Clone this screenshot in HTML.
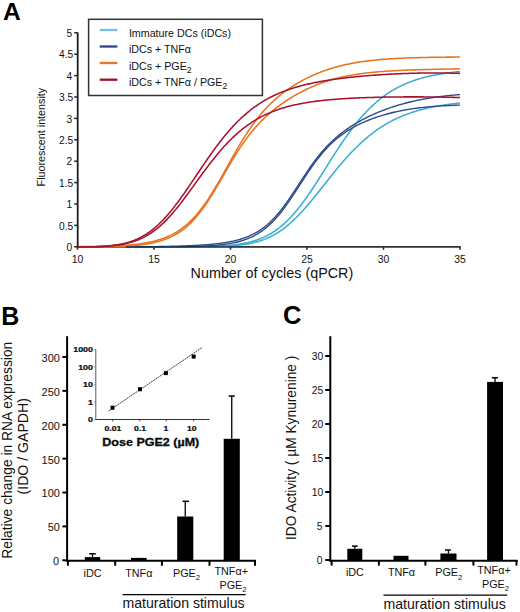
<!DOCTYPE html>
<html><head><meta charset="utf-8"><style>
html,body{margin:0;padding:0;background:#fff;}
svg{display:block;}
text{font-family:"Liberation Sans",sans-serif;fill:#111;}
.b{font-weight:bold;}
</style></head><body>
<svg width="520" height="612" viewBox="0 0 520 612">

<text x="3.0" y="20.2" class="b" font-size="24.6" style="fill:#000">A</text>
<g stroke="#262626" stroke-width="1.3" fill="none">
<line x1="77.7" y1="32.4" x2="77.7" y2="247.4" stroke-width="1.8" stroke="#1e1e1e"/>
<line x1="74.2" y1="246.80" x2="77.5" y2="246.80" stroke-width="1.5"/>
<line x1="74.2" y1="225.40" x2="77.5" y2="225.40" stroke-width="1.5"/>
<line x1="74.2" y1="204.00" x2="77.5" y2="204.00" stroke-width="1.5"/>
<line x1="74.2" y1="182.60" x2="77.5" y2="182.60" stroke-width="1.5"/>
<line x1="74.2" y1="161.20" x2="77.5" y2="161.20" stroke-width="1.5"/>
<line x1="74.2" y1="139.80" x2="77.5" y2="139.80" stroke-width="1.5"/>
<line x1="74.2" y1="118.40" x2="77.5" y2="118.40" stroke-width="1.5"/>
<line x1="74.2" y1="97.00" x2="77.5" y2="97.00" stroke-width="1.5"/>
<line x1="74.2" y1="75.60" x2="77.5" y2="75.60" stroke-width="1.5"/>
<line x1="74.2" y1="54.20" x2="77.5" y2="54.20" stroke-width="1.5"/>
<line x1="74.2" y1="32.80" x2="77.5" y2="32.80" stroke-width="1.5"/>
<line x1="76.9" y1="246.8" x2="460.5" y2="246.8"/>
<line x1="77.50" y1="246.8" x2="77.50" y2="249.8" stroke-width="1.5"/>
<line x1="154.00" y1="246.8" x2="154.00" y2="249.8" stroke-width="1.5"/>
<line x1="230.50" y1="246.8" x2="230.50" y2="249.8" stroke-width="1.5"/>
<line x1="307.00" y1="246.8" x2="307.00" y2="249.8" stroke-width="1.5"/>
<line x1="383.50" y1="246.8" x2="383.50" y2="249.8" stroke-width="1.5"/>
<line x1="460.00" y1="246.8" x2="460.00" y2="249.8" stroke-width="1.5"/>
</g>
<g font-size="10.2" text-anchor="end">
<text x="72.1" y="250.90">0</text>
<text x="73.2" y="229.50">0.5</text>
<text x="72.1" y="208.10">1</text>
<text x="73.2" y="186.70">1.5</text>
<text x="72.1" y="165.30">2</text>
<text x="73.2" y="143.90">2.5</text>
<text x="72.1" y="122.50">3</text>
<text x="73.2" y="101.10">3.5</text>
<text x="72.1" y="79.70">4</text>
<text x="73.2" y="58.30">4.5</text>
<text x="72.1" y="36.90">5</text>
</g>
<g font-size="10.4" text-anchor="middle">
<text x="77.50" y="262.7">10</text>
<text x="154.00" y="262.7">15</text>
<text x="230.50" y="262.7">20</text>
<text x="307.00" y="262.7">25</text>
<text x="383.50" y="262.7">30</text>
<text x="460.00" y="262.7">35</text>
</g>
<text x="190.6" y="277.9" font-size="14.35">Number of cycles (qPCR)</text>
<text transform="translate(44.8,137.1) rotate(-90)" font-size="10.75" text-anchor="middle">Fluorescent intensity</text>
<g fill="none" stroke-width="1.55" stroke-linejoin="round">
<path d="M78.0,246.80 L79.0,246.80 L80.0,246.80 L81.0,246.80 L82.0,246.80 L83.0,246.80 L84.0,246.80 L85.0,246.80 L86.0,246.80 L87.0,246.80 L88.0,246.80 L89.0,246.80 L90.0,246.80 L91.0,246.80 L92.0,246.80 L93.0,246.80 L94.0,246.80 L95.0,246.79 L96.0,246.79 L97.0,246.79 L98.0,246.78 L99.0,246.78 L100.0,246.77 L101.0,246.77 L102.0,246.77 L103.0,246.76 L104.0,246.76 L105.0,246.76 L106.0,246.75 L107.0,246.75 L108.0,246.75 L109.0,246.75 L110.0,246.74 L111.0,246.74 L112.0,246.74 L113.0,246.73 L114.0,246.73 L115.0,246.73 L116.0,246.73 L117.0,246.72 L118.0,246.72 L119.0,246.72 L120.0,246.72 L121.0,246.72 L122.0,246.71 L123.0,246.71 L124.0,246.71 L125.0,246.71 L126.0,246.71 L127.0,246.70 L128.0,246.70 L129.0,246.70 L130.0,246.70 L131.0,246.70 L132.0,246.69 L133.0,246.69 L134.0,246.69 L135.0,246.69 L136.0,246.69 L137.0,246.69 L138.0,246.69 L139.0,246.69 L140.0,246.68 L141.0,246.68 L142.0,246.68 L143.0,246.68 L144.0,246.68 L145.0,246.68 L146.0,246.68 L147.0,246.68 L148.0,246.68 L149.0,246.67 L150.0,246.67 L151.0,246.67 L152.0,246.67 L153.0,246.67 L154.0,246.67 L155.0,246.67 L156.0,246.67 L157.0,246.67 L158.0,246.67 L159.0,246.67 L160.0,246.67 L161.0,246.67 L162.0,246.67 L163.0,246.67 L164.0,246.66 L165.0,246.66 L166.0,246.66 L167.0,246.66 L168.0,246.66 L169.0,246.66 L170.0,246.66 L171.0,246.66 L172.0,246.66 L173.0,246.66 L174.0,246.66 L175.0,246.66 L176.0,246.66 L177.0,246.66 L178.0,246.66 L179.0,246.65 L180.0,246.65 L181.0,246.65 L182.0,246.65 L183.0,246.65 L184.0,246.65 L185.0,246.65 L186.0,246.64 L187.0,246.64 L188.0,246.64 L189.0,246.64 L190.0,246.63 L191.0,246.63 L192.0,246.63 L193.0,246.62 L194.0,246.62 L195.0,246.61 L196.0,246.61 L197.0,246.60 L198.0,246.60 L199.0,246.59 L200.0,246.59 L201.0,246.58 L202.0,246.57 L203.0,246.56 L204.0,246.55 L205.0,246.54 L206.0,246.53 L207.0,246.52 L208.0,246.51 L209.0,246.49 L210.0,246.48 L211.0,246.46 L212.0,246.45 L213.0,246.43 L214.0,246.41 L215.0,246.39 L216.0,246.36 L217.0,246.34 L218.0,246.31 L219.0,246.29 L220.0,246.25 L221.0,246.22 L222.0,246.19 L223.0,246.15 L224.0,246.11 L225.0,246.07 L226.0,246.02 L227.0,245.97 L228.0,245.92 L229.0,245.86 L230.0,245.80 L231.0,245.74 L232.0,245.67 L233.0,245.60 L234.0,245.52 L235.0,245.44 L236.0,245.36 L237.0,245.26 L238.0,245.17 L239.0,245.06 L240.0,244.95 L241.0,244.84 L242.0,244.71 L243.0,244.58 L244.0,244.44 L245.0,244.30 L246.0,244.14 L247.0,243.98 L248.0,243.81 L249.0,243.63 L250.0,243.43 L251.0,243.23 L252.0,243.02 L253.0,242.80 L254.0,242.56 L255.0,242.32 L256.0,242.06 L257.0,241.79 L258.0,241.50 L259.0,241.21 L260.0,240.89 L261.0,240.57 L262.0,240.23 L263.0,239.87 L264.0,239.50 L265.0,239.12 L266.0,238.71 L267.0,238.29 L268.0,237.85 L269.0,237.40 L270.0,236.93 L271.0,236.44 L272.0,235.93 L273.0,235.40 L274.0,234.85 L275.0,234.29 L276.0,233.70 L277.0,233.10 L278.0,232.47 L279.0,231.83 L280.0,231.16 L281.0,230.48 L282.0,229.77 L283.0,229.05 L284.0,228.30 L285.0,227.53 L286.0,226.74 L287.0,225.93 L288.0,225.11 L289.0,224.26 L290.0,223.39 L291.0,222.50 L292.0,221.59 L293.0,220.66 L294.0,219.72 L295.0,218.75 L296.0,217.77 L297.0,216.77 L298.0,215.75 L299.0,214.71 L300.0,213.66 L301.0,212.59 L302.0,211.51 L303.0,210.41 L304.0,209.29 L305.0,208.16 L306.0,207.02 L307.0,205.87 L308.0,204.70 L309.0,203.52 L310.0,202.33 L311.0,201.13 L312.0,199.93 L313.0,198.71 L314.0,197.49 L315.0,196.25 L316.0,195.01 L317.0,193.77 L318.0,192.52 L319.0,191.27 L320.0,190.01 L321.0,188.75 L322.0,187.49 L323.0,186.23 L324.0,184.96 L325.0,183.70 L326.0,182.44 L327.0,181.17 L328.0,179.92 L329.0,178.66 L330.0,177.40 L331.0,176.16 L332.0,174.91 L333.0,173.67 L334.0,172.44 L335.0,171.21 L336.0,169.99 L337.0,168.78 L338.0,167.57 L339.0,166.37 L340.0,165.19 L341.0,164.01 L342.0,162.84 L343.0,161.68 L344.0,160.53 L345.0,159.39 L346.0,158.27 L347.0,157.15 L348.0,156.05 L349.0,154.96 L350.0,153.88 L351.0,152.81 L352.0,151.76 L353.0,150.72 L354.0,149.69 L355.0,148.68 L356.0,147.68 L357.0,146.69 L358.0,145.72 L359.0,144.76 L360.0,143.82 L361.0,142.89 L362.0,141.97 L363.0,141.07 L364.0,140.18 L365.0,139.30 L366.0,138.44 L367.0,137.60 L368.0,136.76 L369.0,135.95 L370.0,135.14 L371.0,134.35 L372.0,133.57 L373.0,132.81 L374.0,132.06 L375.0,131.33 L376.0,130.61 L377.0,129.90 L378.0,129.20 L379.0,128.52 L380.0,127.85 L381.0,127.20 L382.0,126.56 L383.0,125.93 L384.0,125.31 L385.0,124.70 L386.0,124.11 L387.0,123.53 L388.0,122.96 L389.0,122.40 L390.0,121.86 L391.0,121.32 L392.0,120.80 L393.0,120.29 L394.0,119.78 L395.0,119.29 L396.0,118.81 L397.0,118.34 L398.0,117.89 L399.0,117.44 L400.0,117.00 L401.0,116.57 L402.0,116.15 L403.0,115.74 L404.0,115.33 L405.0,114.94 L406.0,114.56 L407.0,114.18 L408.0,113.82 L409.0,113.46 L410.0,113.11 L411.0,112.77 L412.0,112.43 L413.0,112.10 L414.0,111.79 L415.0,111.47 L416.0,111.17 L417.0,110.87 L418.0,110.58 L419.0,110.30 L420.0,110.02 L421.0,109.75 L422.0,109.49 L423.0,109.23 L424.0,108.98 L425.0,108.73 L426.0,108.49 L427.0,108.26 L428.0,108.03 L429.0,107.81 L430.0,107.59 L431.0,107.38 L432.0,107.17 L433.0,106.97 L434.0,106.77 L435.0,106.57 L436.0,106.39 L437.0,106.20 L438.0,106.02 L439.0,105.85 L440.0,105.68 L441.0,105.51 L442.0,105.35 L443.0,105.19 L444.0,105.03 L445.0,104.88 L446.0,104.73 L447.0,104.59 L448.0,104.45 L449.0,104.31 L450.0,104.17 L451.0,104.04 L452.0,103.91 L453.0,103.79 L454.0,103.67 L455.0,103.55 L456.0,103.43 L457.0,103.32 L458.0,103.20 L459.0,103.10 L460.0,102.99" stroke="#3aaed2"/>
<path d="M78.0,246.80 L79.0,246.80 L80.0,246.80 L81.0,246.80 L82.0,246.80 L83.0,246.80 L84.0,246.80 L85.0,246.80 L86.0,246.80 L87.0,246.80 L88.0,246.80 L89.0,246.80 L90.0,246.80 L91.0,246.80 L92.0,246.80 L93.0,246.80 L94.0,246.80 L95.0,246.80 L96.0,246.80 L97.0,246.80 L98.0,246.80 L99.0,246.80 L100.0,246.80 L101.0,246.80 L102.0,246.80 L103.0,246.80 L104.0,246.80 L105.0,246.80 L106.0,246.80 L107.0,246.80 L108.0,246.80 L109.0,246.80 L110.0,246.80 L111.0,246.80 L112.0,246.80 L113.0,246.80 L114.0,246.80 L115.0,246.80 L116.0,246.80 L117.0,246.80 L118.0,246.80 L119.0,246.80 L120.0,246.80 L121.0,246.80 L122.0,246.80 L123.0,246.80 L124.0,246.80 L125.0,246.80 L126.0,246.80 L127.0,246.80 L128.0,246.80 L129.0,246.80 L130.0,246.80 L131.0,246.80 L132.0,246.80 L133.0,246.80 L134.0,246.80 L135.0,246.80 L136.0,246.80 L137.0,246.80 L138.0,246.80 L139.0,246.80 L140.0,246.80 L141.0,246.80 L142.0,246.80 L143.0,246.80 L144.0,246.80 L145.0,246.80 L146.0,246.80 L147.0,246.80 L148.0,246.80 L149.0,246.80 L150.0,246.80 L151.0,246.80 L152.0,246.80 L153.0,246.80 L154.0,246.80 L155.0,246.80 L156.0,246.80 L157.0,246.80 L158.0,246.80 L159.0,246.80 L160.0,246.80 L161.0,246.80 L162.0,246.80 L163.0,246.80 L164.0,246.80 L165.0,246.80 L166.0,246.80 L167.0,246.80 L168.0,246.80 L169.0,246.80 L170.0,246.80 L171.0,246.80 L172.0,246.80 L173.0,246.80 L174.0,246.80 L175.0,246.80 L176.0,246.80 L177.0,246.80 L178.0,246.80 L179.0,246.80 L180.0,246.80 L181.0,246.80 L182.0,246.80 L183.0,246.80 L184.0,246.80 L185.0,246.80 L186.0,246.80 L187.0,246.80 L188.0,246.80 L189.0,246.80 L190.0,246.80 L191.0,246.80 L192.0,246.78 L193.0,246.77 L194.0,246.76 L195.0,246.75 L196.0,246.73 L197.0,246.72 L198.0,246.70 L199.0,246.68 L200.0,246.67 L201.0,246.65 L202.0,246.63 L203.0,246.61 L204.0,246.58 L205.0,246.56 L206.0,246.54 L207.0,246.51 L208.0,246.48 L209.0,246.45 L210.0,246.42 L211.0,246.39 L212.0,246.35 L213.0,246.31 L214.0,246.28 L215.0,246.23 L216.0,246.19 L217.0,246.14 L218.0,246.10 L219.0,246.04 L220.0,245.99 L221.0,245.93 L222.0,245.87 L223.0,245.81 L224.0,245.74 L225.0,245.67 L226.0,245.60 L227.0,245.52 L228.0,245.43 L229.0,245.35 L230.0,245.25 L231.0,245.16 L232.0,245.05 L233.0,244.95 L234.0,244.83 L235.0,244.71 L236.0,244.59 L237.0,244.46 L238.0,244.32 L239.0,244.17 L240.0,244.02 L241.0,243.86 L242.0,243.69 L243.0,243.51 L244.0,243.33 L245.0,243.13 L246.0,242.93 L247.0,242.71 L248.0,242.49 L249.0,242.25 L250.0,242.00 L251.0,241.75 L252.0,241.48 L253.0,241.19 L254.0,240.90 L255.0,240.59 L256.0,240.27 L257.0,239.93 L258.0,239.58 L259.0,239.21 L260.0,238.83 L261.0,238.43 L262.0,238.02 L263.0,237.59 L264.0,237.14 L265.0,236.67 L266.0,236.19 L267.0,235.68 L268.0,235.16 L269.0,234.62 L270.0,234.05 L271.0,233.47 L272.0,232.86 L273.0,232.24 L274.0,231.59 L275.0,230.92 L276.0,230.22 L277.0,229.50 L278.0,228.76 L279.0,228.00 L280.0,227.21 L281.0,226.40 L282.0,225.56 L283.0,224.70 L284.0,223.82 L285.0,222.91 L286.0,221.97 L287.0,221.01 L288.0,220.02 L289.0,219.01 L290.0,217.98 L291.0,216.92 L292.0,215.83 L293.0,214.72 L294.0,213.59 L295.0,212.43 L296.0,211.25 L297.0,210.04 L298.0,208.81 L299.0,207.56 L300.0,206.29 L301.0,204.99 L302.0,203.67 L303.0,202.33 L304.0,200.98 L305.0,199.60 L306.0,198.20 L307.0,196.79 L308.0,195.36 L309.0,193.91 L310.0,192.45 L311.0,190.97 L312.0,189.47 L313.0,187.97 L314.0,186.45 L315.0,184.92 L316.0,183.38 L317.0,181.83 L318.0,180.27 L319.0,178.71 L320.0,177.14 L321.0,175.56 L322.0,173.98 L323.0,172.39 L324.0,170.80 L325.0,169.21 L326.0,167.62 L327.0,166.03 L328.0,164.44 L329.0,162.85 L330.0,161.27 L331.0,159.69 L332.0,158.11 L333.0,156.54 L334.0,154.98 L335.0,153.42 L336.0,151.87 L337.0,150.33 L338.0,148.80 L339.0,147.28 L340.0,145.78 L341.0,144.28 L342.0,142.80 L343.0,141.33 L344.0,139.87 L345.0,138.43 L346.0,137.00 L347.0,135.59 L348.0,134.19 L349.0,132.81 L350.0,131.45 L351.0,130.10 L352.0,128.77 L353.0,127.46 L354.0,126.16 L355.0,124.89 L356.0,123.63 L357.0,122.39 L358.0,121.17 L359.0,119.96 L360.0,118.78 L361.0,117.62 L362.0,116.47 L363.0,115.35 L364.0,114.24 L365.0,113.16 L366.0,112.09 L367.0,111.04 L368.0,110.01 L369.0,109.00 L370.0,108.01 L371.0,107.04 L372.0,106.09 L373.0,105.15 L374.0,104.24 L375.0,103.34 L376.0,102.46 L377.0,101.60 L378.0,100.76 L379.0,99.94 L380.0,99.13 L381.0,98.34 L382.0,97.57 L383.0,96.82 L384.0,96.08 L385.0,95.36 L386.0,94.65 L387.0,93.96 L388.0,93.29 L389.0,92.63 L390.0,91.99 L391.0,91.36 L392.0,90.75 L393.0,90.15 L394.0,89.57 L395.0,89.00 L396.0,88.45 L397.0,87.90 L398.0,87.37 L399.0,86.86 L400.0,86.36 L401.0,85.87 L402.0,85.39 L403.0,84.92 L404.0,84.47 L405.0,84.03 L406.0,83.60 L407.0,83.18 L408.0,82.77 L409.0,82.37 L410.0,81.98 L411.0,81.60 L412.0,81.23 L413.0,80.88 L414.0,80.53 L415.0,80.19 L416.0,79.86 L417.0,79.53 L418.0,79.22 L419.0,78.92 L420.0,78.62 L421.0,78.33 L422.0,78.05 L423.0,77.78 L424.0,77.51 L425.0,77.25 L426.0,77.00 L427.0,76.76 L428.0,76.52 L429.0,76.29 L430.0,76.06 L431.0,75.84 L432.0,75.63 L433.0,75.42 L434.0,75.22 L435.0,75.03 L436.0,74.84 L437.0,74.65 L438.0,74.47 L439.0,74.30 L440.0,74.13 L441.0,73.97 L442.0,73.81 L443.0,73.65 L444.0,73.50 L445.0,73.35 L446.0,73.21 L447.0,73.07 L448.0,72.94 L449.0,72.81 L450.0,72.68 L451.0,72.55 L452.0,72.43 L453.0,72.32 L454.0,72.21 L455.0,72.10 L456.0,71.99 L457.0,71.89 L458.0,71.78 L459.0,71.69 L460.0,71.59" stroke="#3aaed2"/>
<path d="M78.0,246.80 L79.0,246.80 L80.0,246.80 L81.0,246.80 L82.0,246.80 L83.0,246.80 L84.0,246.80 L85.0,246.80 L86.0,246.80 L87.0,246.80 L88.0,246.80 L89.0,246.80 L90.0,246.80 L91.0,246.80 L92.0,246.80 L93.0,246.80 L94.0,246.80 L95.0,246.80 L96.0,246.80 L97.0,246.80 L98.0,246.80 L99.0,246.80 L100.0,246.80 L101.0,246.80 L102.0,246.80 L103.0,246.80 L104.0,246.80 L105.0,246.80 L106.0,246.80 L107.0,246.80 L108.0,246.80 L109.0,246.80 L110.0,246.80 L111.0,246.80 L112.0,246.80 L113.0,246.80 L114.0,246.80 L115.0,246.80 L116.0,246.80 L117.0,246.80 L118.0,246.80 L119.0,246.80 L120.0,246.80 L121.0,246.80 L122.0,246.80 L123.0,246.80 L124.0,246.80 L125.0,246.80 L126.0,246.80 L127.0,246.80 L128.0,246.80 L129.0,246.80 L130.0,246.80 L131.0,246.80 L132.0,246.80 L133.0,246.80 L134.0,246.80 L135.0,246.80 L136.0,246.80 L137.0,246.80 L138.0,246.80 L139.0,246.80 L140.0,246.80 L141.0,246.80 L142.0,246.80 L143.0,246.80 L144.0,246.80 L145.0,246.80 L146.0,246.80 L147.0,246.80 L148.0,246.80 L149.0,246.80 L150.0,246.80 L151.0,246.80 L152.0,246.80 L153.0,246.80 L154.0,246.80 L155.0,246.80 L156.0,246.80 L157.0,246.80 L158.0,246.80 L159.0,246.80 L160.0,246.80 L161.0,246.80 L162.0,246.80 L163.0,246.80 L164.0,246.80 L165.0,246.80 L166.0,246.80 L167.0,246.80 L168.0,246.80 L169.0,246.80 L170.0,246.80 L171.0,246.80 L172.0,246.80 L173.0,246.80 L174.0,246.80 L175.0,246.80 L176.0,246.80 L177.0,246.80 L178.0,246.80 L179.0,246.80 L180.0,246.80 L181.0,246.80 L182.0,246.80 L183.0,246.80 L184.0,246.78 L185.0,246.76 L186.0,246.74 L187.0,246.72 L188.0,246.70 L189.0,246.67 L190.0,246.65 L191.0,246.62 L192.0,246.59 L193.0,246.56 L194.0,246.53 L195.0,246.50 L196.0,246.46 L197.0,246.43 L198.0,246.39 L199.0,246.35 L200.0,246.31 L201.0,246.27 L202.0,246.22 L203.0,246.17 L204.0,246.12 L205.0,246.07 L206.0,246.01 L207.0,245.96 L208.0,245.90 L209.0,245.83 L210.0,245.77 L211.0,245.70 L212.0,245.62 L213.0,245.55 L214.0,245.46 L215.0,245.38 L216.0,245.29 L217.0,245.20 L218.0,245.10 L219.0,245.00 L220.0,244.89 L221.0,244.78 L222.0,244.66 L223.0,244.54 L224.0,244.41 L225.0,244.27 L226.0,244.13 L227.0,243.98 L228.0,243.82 L229.0,243.65 L230.0,243.48 L231.0,243.30 L232.0,243.11 L233.0,242.91 L234.0,242.70 L235.0,242.49 L236.0,242.26 L237.0,242.02 L238.0,241.77 L239.0,241.51 L240.0,241.23 L241.0,240.94 L242.0,240.64 L243.0,240.33 L244.0,240.00 L245.0,239.66 L246.0,239.30 L247.0,238.92 L248.0,238.53 L249.0,238.12 L250.0,237.69 L251.0,237.25 L252.0,236.78 L253.0,236.30 L254.0,235.79 L255.0,235.26 L256.0,234.71 L257.0,234.14 L258.0,233.54 L259.0,232.93 L260.0,232.28 L261.0,231.61 L262.0,230.92 L263.0,230.19 L264.0,229.45 L265.0,228.67 L266.0,227.87 L267.0,227.03 L268.0,226.17 L269.0,225.28 L270.0,224.36 L271.0,223.41 L272.0,222.43 L273.0,221.42 L274.0,220.38 L275.0,219.31 L276.0,218.21 L277.0,217.07 L278.0,215.91 L279.0,214.72 L280.0,213.51 L281.0,212.26 L282.0,210.99 L283.0,209.69 L284.0,208.36 L285.0,207.01 L286.0,205.63 L287.0,204.23 L288.0,202.82 L289.0,201.38 L290.0,199.92 L291.0,198.44 L292.0,196.95 L293.0,195.45 L294.0,193.93 L295.0,192.41 L296.0,190.87 L297.0,189.33 L298.0,187.78 L299.0,186.23 L300.0,184.68 L301.0,183.13 L302.0,181.59 L303.0,180.04 L304.0,178.51 L305.0,176.98 L306.0,175.46 L307.0,173.95 L308.0,172.46 L309.0,170.98 L310.0,169.51 L311.0,168.07 L312.0,166.64 L313.0,165.23 L314.0,163.84 L315.0,162.47 L316.0,161.12 L317.0,159.80 L318.0,158.50 L319.0,157.23 L320.0,155.97 L321.0,154.75 L322.0,153.55 L323.0,152.37 L324.0,151.22 L325.0,150.10 L326.0,149.00 L327.0,147.92 L328.0,146.87 L329.0,145.85 L330.0,144.85 L331.0,143.87 L332.0,142.92 L333.0,141.99 L334.0,141.09 L335.0,140.21 L336.0,139.34 L337.0,138.50 L338.0,137.69 L339.0,136.89 L340.0,136.11 L341.0,135.35 L342.0,134.61 L343.0,133.89 L344.0,133.19 L345.0,132.50 L346.0,131.83 L347.0,131.18 L348.0,130.54 L349.0,129.92 L350.0,129.31 L351.0,128.71 L352.0,128.13 L353.0,127.57 L354.0,127.01 L355.0,126.47 L356.0,125.94 L357.0,125.42 L358.0,124.92 L359.0,124.42 L360.0,123.94 L361.0,123.46 L362.0,123.00 L363.0,122.54 L364.0,122.10 L365.0,121.66 L366.0,121.23 L367.0,120.81 L368.0,120.40 L369.0,120.00 L370.0,119.61 L371.0,119.22 L372.0,118.85 L373.0,118.48 L374.0,118.11 L375.0,117.76 L376.0,117.41 L377.0,117.07 L378.0,116.73 L379.0,116.41 L380.0,116.09 L381.0,115.77 L382.0,115.47 L383.0,115.16 L384.0,114.87 L385.0,114.58 L386.0,114.30 L387.0,114.02 L388.0,113.75 L389.0,113.49 L390.0,113.23 L391.0,112.98 L392.0,112.73 L393.0,112.49 L394.0,112.25 L395.0,112.02 L396.0,111.80 L397.0,111.57 L398.0,111.36 L399.0,111.15 L400.0,110.94 L401.0,110.74 L402.0,110.55 L403.0,110.36 L404.0,110.17 L405.0,109.99 L406.0,109.82 L407.0,109.64 L408.0,109.48 L409.0,109.31 L410.0,109.16 L411.0,109.00 L412.0,108.85 L413.0,108.70 L414.0,108.56 L415.0,108.42 L416.0,108.29 L417.0,108.16 L418.0,108.03 L419.0,107.90 L420.0,107.78 L421.0,107.67 L422.0,107.55 L423.0,107.44 L424.0,107.34 L425.0,107.23 L426.0,107.13 L427.0,107.03 L428.0,106.94 L429.0,106.85 L430.0,106.76 L431.0,106.67 L432.0,106.59 L433.0,106.51 L434.0,106.43 L435.0,106.35 L436.0,106.28 L437.0,106.20 L438.0,106.14 L439.0,106.07 L440.0,106.00 L441.0,105.94 L442.0,105.88 L443.0,105.82 L444.0,105.77 L445.0,105.71 L446.0,105.66 L447.0,105.61 L448.0,105.56 L449.0,105.51 L450.0,105.46 L451.0,105.42 L452.0,105.38 L453.0,105.34 L454.0,105.30 L455.0,105.26 L456.0,105.22 L457.0,105.19 L458.0,105.15 L459.0,105.12 L460.0,105.09" stroke="#2a4888" stroke-width="1.35"/>
<path d="M78.0,246.80 L79.0,246.80 L80.0,246.80 L81.0,246.80 L82.0,246.80 L83.0,246.80 L84.0,246.80 L85.0,246.80 L86.0,246.80 L87.0,246.80 L88.0,246.80 L89.0,246.80 L90.0,246.80 L91.0,246.80 L92.0,246.80 L93.0,246.80 L94.0,246.80 L95.0,246.80 L96.0,246.80 L97.0,246.80 L98.0,246.80 L99.0,246.80 L100.0,246.80 L101.0,246.80 L102.0,246.80 L103.0,246.80 L104.0,246.80 L105.0,246.80 L106.0,246.80 L107.0,246.80 L108.0,246.80 L109.0,246.80 L110.0,246.80 L111.0,246.80 L112.0,246.80 L113.0,246.80 L114.0,246.80 L115.0,246.80 L116.0,246.80 L117.0,246.80 L118.0,246.80 L119.0,246.80 L120.0,246.80 L121.0,246.80 L122.0,246.80 L123.0,246.80 L124.0,246.80 L125.0,246.80 L126.0,246.80 L127.0,246.80 L128.0,246.80 L129.0,246.80 L130.0,246.80 L131.0,246.80 L132.0,246.80 L133.0,246.80 L134.0,246.80 L135.0,246.80 L136.0,246.80 L137.0,246.79 L138.0,246.79 L139.0,246.78 L140.0,246.77 L141.0,246.76 L142.0,246.75 L143.0,246.74 L144.0,246.73 L145.0,246.72 L146.0,246.71 L147.0,246.70 L148.0,246.68 L149.0,246.67 L150.0,246.66 L151.0,246.65 L152.0,246.63 L153.0,246.62 L154.0,246.61 L155.0,246.59 L156.0,246.58 L157.0,246.56 L158.0,246.55 L159.0,246.53 L160.0,246.51 L161.0,246.50 L162.0,246.48 L163.0,246.46 L164.0,246.44 L165.0,246.42 L166.0,246.40 L167.0,246.38 L168.0,246.36 L169.0,246.34 L170.0,246.31 L171.0,246.29 L172.0,246.26 L173.0,246.24 L174.0,246.21 L175.0,246.19 L176.0,246.16 L177.0,246.13 L178.0,246.10 L179.0,246.07 L180.0,246.04 L181.0,246.01 L182.0,245.97 L183.0,245.94 L184.0,245.90 L185.0,245.87 L186.0,245.83 L187.0,245.79 L188.0,245.75 L189.0,245.71 L190.0,245.67 L191.0,245.62 L192.0,245.57 L193.0,245.53 L194.0,245.48 L195.0,245.43 L196.0,245.37 L197.0,245.32 L198.0,245.26 L199.0,245.20 L200.0,245.14 L201.0,245.08 L202.0,245.01 L203.0,244.95 L204.0,244.88 L205.0,244.80 L206.0,244.73 L207.0,244.65 L208.0,244.57 L209.0,244.48 L210.0,244.40 L211.0,244.31 L212.0,244.21 L213.0,244.11 L214.0,244.01 L215.0,243.91 L216.0,243.80 L217.0,243.68 L218.0,243.57 L219.0,243.44 L220.0,243.32 L221.0,243.18 L222.0,243.04 L223.0,242.90 L224.0,242.75 L225.0,242.59 L226.0,242.43 L227.0,242.26 L228.0,242.09 L229.0,241.90 L230.0,241.71 L231.0,241.51 L232.0,241.31 L233.0,241.09 L234.0,240.87 L235.0,240.63 L236.0,240.39 L237.0,240.13 L238.0,239.87 L239.0,239.59 L240.0,239.30 L241.0,239.00 L242.0,238.69 L243.0,238.36 L244.0,238.02 L245.0,237.67 L246.0,237.30 L247.0,236.91 L248.0,236.51 L249.0,236.09 L250.0,235.66 L251.0,235.20 L252.0,234.73 L253.0,234.24 L254.0,233.72 L255.0,233.19 L256.0,232.64 L257.0,232.06 L258.0,231.46 L259.0,230.83 L260.0,230.19 L261.0,229.51 L262.0,228.81 L263.0,228.09 L264.0,227.34 L265.0,226.56 L266.0,225.75 L267.0,224.91 L268.0,224.05 L269.0,223.15 L270.0,222.23 L271.0,221.27 L272.0,220.29 L273.0,219.27 L274.0,218.23 L275.0,217.15 L276.0,216.04 L277.0,214.90 L278.0,213.74 L279.0,212.54 L280.0,211.31 L281.0,210.06 L282.0,208.78 L283.0,207.47 L284.0,206.13 L285.0,204.77 L286.0,203.39 L287.0,201.98 L288.0,200.55 L289.0,199.11 L290.0,197.64 L291.0,196.16 L292.0,194.67 L293.0,193.16 L294.0,191.64 L295.0,190.11 L296.0,188.58 L297.0,187.04 L298.0,185.50 L299.0,183.95 L300.0,182.41 L301.0,180.87 L302.0,179.33 L303.0,177.81 L304.0,176.28 L305.0,174.77 L306.0,173.27 L307.0,171.79 L308.0,170.31 L309.0,168.86 L310.0,167.42 L311.0,166.00 L312.0,164.59 L313.0,163.21 L314.0,161.85 L315.0,160.51 L316.0,159.19 L317.0,157.89 L318.0,156.62 L319.0,155.37 L320.0,154.15 L321.0,152.94 L322.0,151.77 L323.0,150.61 L324.0,149.48 L325.0,148.37 L326.0,147.29 L327.0,146.22 L328.0,145.19 L329.0,144.17 L330.0,143.17 L331.0,142.20 L332.0,141.24 L333.0,140.31 L334.0,139.40 L335.0,138.50 L336.0,137.63 L337.0,136.77 L338.0,135.93 L339.0,135.11 L340.0,134.31 L341.0,133.52 L342.0,132.75 L343.0,131.99 L344.0,131.25 L345.0,130.52 L346.0,129.81 L347.0,129.11 L348.0,128.42 L349.0,127.74 L350.0,127.08 L351.0,126.43 L352.0,125.79 L353.0,125.17 L354.0,124.55 L355.0,123.94 L356.0,123.35 L357.0,122.76 L358.0,122.18 L359.0,121.62 L360.0,121.06 L361.0,120.51 L362.0,119.97 L363.0,119.44 L364.0,118.92 L365.0,118.40 L366.0,117.90 L367.0,117.40 L368.0,116.91 L369.0,116.42 L370.0,115.95 L371.0,115.48 L372.0,115.02 L373.0,114.56 L374.0,114.11 L375.0,113.67 L376.0,113.24 L377.0,112.81 L378.0,112.39 L379.0,111.98 L380.0,111.57 L381.0,111.17 L382.0,110.77 L383.0,110.38 L384.0,110.00 L385.0,109.62 L386.0,109.25 L387.0,108.88 L388.0,108.52 L389.0,108.17 L390.0,107.82 L391.0,107.48 L392.0,107.14 L393.0,106.81 L394.0,106.49 L395.0,106.17 L396.0,105.85 L397.0,105.55 L398.0,105.24 L399.0,104.94 L400.0,104.65 L401.0,104.36 L402.0,104.08 L403.0,103.80 L404.0,103.53 L405.0,103.26 L406.0,103.00 L407.0,102.74 L408.0,102.49 L409.0,102.24 L410.0,102.00 L411.0,101.76 L412.0,101.52 L413.0,101.29 L414.0,101.07 L415.0,100.85 L416.0,100.63 L417.0,100.42 L418.0,100.21 L419.0,100.01 L420.0,99.81 L421.0,99.61 L422.0,99.42 L423.0,99.23 L424.0,99.05 L425.0,98.87 L426.0,98.69 L427.0,98.52 L428.0,98.35 L429.0,98.18 L430.0,98.02 L431.0,97.87 L432.0,97.71 L433.0,97.56 L434.0,97.41 L435.0,97.27 L436.0,97.13 L437.0,96.99 L438.0,96.85 L439.0,96.72 L440.0,96.59 L441.0,96.47 L442.0,96.34 L443.0,96.22 L444.0,96.11 L445.0,95.99 L446.0,95.88 L447.0,95.77 L448.0,95.67 L449.0,95.56 L450.0,95.46 L451.0,95.36 L452.0,95.27 L453.0,95.17 L454.0,95.08 L455.0,94.99 L456.0,94.90 L457.0,94.82 L458.0,94.74 L459.0,94.65 L460.0,94.58" stroke="#2a4888" stroke-width="1.35"/>
<path d="M78.0,246.80 L79.0,246.80 L80.0,246.80 L81.0,246.80 L82.0,246.80 L83.0,246.80 L84.0,246.80 L85.0,246.80 L86.0,246.80 L87.0,246.80 L88.0,246.80 L89.0,246.80 L90.0,246.80 L91.0,246.80 L92.0,246.80 L93.0,246.80 L94.0,246.80 L95.0,246.80 L96.0,246.80 L97.0,246.80 L98.0,246.80 L99.0,246.80 L100.0,246.80 L101.0,246.80 L102.0,246.80 L103.0,246.80 L104.0,246.80 L105.0,246.80 L106.0,246.80 L107.0,246.80 L108.0,246.80 L109.0,246.80 L110.0,246.80 L111.0,246.80 L112.0,246.80 L113.0,246.80 L114.0,246.80 L115.0,246.80 L116.0,246.80 L117.0,246.80 L118.0,246.80 L119.0,246.80 L120.0,246.80 L121.0,246.78 L122.0,246.72 L123.0,246.65 L124.0,246.58 L125.0,246.51 L126.0,246.43 L127.0,246.35 L128.0,246.27 L129.0,246.19 L130.0,246.10 L131.0,246.01 L132.0,245.92 L133.0,245.82 L134.0,245.72 L135.0,245.62 L136.0,245.51 L137.0,245.40 L138.0,245.29 L139.0,245.16 L140.0,245.04 L141.0,244.91 L142.0,244.77 L143.0,244.63 L144.0,244.48 L145.0,244.33 L146.0,244.17 L147.0,244.00 L148.0,243.82 L149.0,243.64 L150.0,243.45 L151.0,243.25 L152.0,243.05 L153.0,242.83 L154.0,242.60 L155.0,242.37 L156.0,242.12 L157.0,241.87 L158.0,241.60 L159.0,241.32 L160.0,241.03 L161.0,240.73 L162.0,240.41 L163.0,240.08 L164.0,239.73 L165.0,239.37 L166.0,239.00 L167.0,238.61 L168.0,238.20 L169.0,237.77 L170.0,237.33 L171.0,236.87 L172.0,236.38 L173.0,235.88 L174.0,235.36 L175.0,234.81 L176.0,234.25 L177.0,233.66 L178.0,233.04 L179.0,232.41 L180.0,231.74 L181.0,231.06 L182.0,230.34 L183.0,229.60 L184.0,228.83 L185.0,228.03 L186.0,227.20 L187.0,226.35 L188.0,225.46 L189.0,224.54 L190.0,223.59 L191.0,222.61 L192.0,221.60 L193.0,220.56 L194.0,219.48 L195.0,218.37 L196.0,217.23 L197.0,216.05 L198.0,214.85 L199.0,213.61 L200.0,212.33 L201.0,211.03 L202.0,209.69 L203.0,208.32 L204.0,206.93 L205.0,205.50 L206.0,204.04 L207.0,202.56 L208.0,201.04 L209.0,199.51 L210.0,197.94 L211.0,196.36 L212.0,194.75 L213.0,193.12 L214.0,191.48 L215.0,189.81 L216.0,188.13 L217.0,186.44 L218.0,184.73 L219.0,183.02 L220.0,181.29 L221.0,179.56 L222.0,177.83 L223.0,176.09 L224.0,174.35 L225.0,172.62 L226.0,170.89 L227.0,169.16 L228.0,167.44 L229.0,165.72 L230.0,164.02 L231.0,162.33 L232.0,160.66 L233.0,158.99 L234.0,157.35 L235.0,155.72 L236.0,154.11 L237.0,152.52 L238.0,150.95 L239.0,149.40 L240.0,147.88 L241.0,146.37 L242.0,144.89 L243.0,143.44 L244.0,142.01 L245.0,140.60 L246.0,139.22 L247.0,137.86 L248.0,136.53 L249.0,135.22 L250.0,133.94 L251.0,132.68 L252.0,131.44 L253.0,130.23 L254.0,129.05 L255.0,127.89 L256.0,126.75 L257.0,125.63 L258.0,124.53 L259.0,123.46 L260.0,122.41 L261.0,121.38 L262.0,120.37 L263.0,119.38 L264.0,118.40 L265.0,117.45 L266.0,116.52 L267.0,115.60 L268.0,114.70 L269.0,113.81 L270.0,112.94 L271.0,112.09 L272.0,111.25 L273.0,110.43 L274.0,109.62 L275.0,108.83 L276.0,108.05 L277.0,107.28 L278.0,106.52 L279.0,105.78 L280.0,105.05 L281.0,104.33 L282.0,103.62 L283.0,102.92 L284.0,102.24 L285.0,101.56 L286.0,100.90 L287.0,100.24 L288.0,99.60 L289.0,98.96 L290.0,98.33 L291.0,97.72 L292.0,97.11 L293.0,96.51 L294.0,95.92 L295.0,95.35 L296.0,94.77 L297.0,94.21 L298.0,93.66 L299.0,93.11 L300.0,92.58 L301.0,92.05 L302.0,91.53 L303.0,91.02 L304.0,90.52 L305.0,90.02 L306.0,89.54 L307.0,89.06 L308.0,88.59 L309.0,88.13 L310.0,87.67 L311.0,87.23 L312.0,86.79 L313.0,86.36 L314.0,85.94 L315.0,85.52 L316.0,85.12 L317.0,84.72 L318.0,84.33 L319.0,83.95 L320.0,83.57 L321.0,83.20 L322.0,82.84 L323.0,82.49 L324.0,82.14 L325.0,81.80 L326.0,81.47 L327.0,81.15 L328.0,80.83 L329.0,80.52 L330.0,80.21 L331.0,79.92 L332.0,79.63 L333.0,79.34 L334.0,79.07 L335.0,78.80 L336.0,78.53 L337.0,78.27 L338.0,78.02 L339.0,77.77 L340.0,77.53 L341.0,77.30 L342.0,77.07 L343.0,76.85 L344.0,76.63 L345.0,76.42 L346.0,76.21 L347.0,76.01 L348.0,75.82 L349.0,75.62 L350.0,75.44 L351.0,75.26 L352.0,75.08 L353.0,74.91 L354.0,74.74 L355.0,74.58 L356.0,74.42 L357.0,74.27 L358.0,74.12 L359.0,73.97 L360.0,73.83 L361.0,73.69 L362.0,73.55 L363.0,73.42 L364.0,73.30 L365.0,73.17 L366.0,73.05 L367.0,72.93 L368.0,72.82 L369.0,72.71 L370.0,72.60 L371.0,72.50 L372.0,72.40 L373.0,72.30 L374.0,72.20 L375.0,72.11 L376.0,72.02 L377.0,71.93 L378.0,71.84 L379.0,71.76 L380.0,71.68 L381.0,71.60 L382.0,71.52 L383.0,71.45 L384.0,71.37 L385.0,71.30 L386.0,71.23 L387.0,71.17 L388.0,71.10 L389.0,71.04 L390.0,70.98 L391.0,70.92 L392.0,70.86 L393.0,70.80 L394.0,70.75 L395.0,70.69 L396.0,70.64 L397.0,70.59 L398.0,70.54 L399.0,70.49 L400.0,70.44 L401.0,70.40 L402.0,70.35 L403.0,70.31 L404.0,70.27 L405.0,70.22 L406.0,70.18 L407.0,70.14 L408.0,70.10 L409.0,70.07 L410.0,70.03 L411.0,69.99 L412.0,69.96 L413.0,69.92 L414.0,69.89 L415.0,69.86 L416.0,69.82 L417.0,69.79 L418.0,69.76 L419.0,69.73 L420.0,69.70 L421.0,69.67 L422.0,69.64 L423.0,69.61 L424.0,69.58 L425.0,69.56 L426.0,69.53 L427.0,69.50 L428.0,69.48 L429.0,69.45 L430.0,69.43 L431.0,69.40 L432.0,69.38 L433.0,69.35 L434.0,69.33 L435.0,69.30 L436.0,69.28 L437.0,69.26 L438.0,69.23 L439.0,69.21 L440.0,69.19 L441.0,69.17 L442.0,69.14 L443.0,69.12 L444.0,69.10 L445.0,69.08 L446.0,69.06 L447.0,69.04 L448.0,69.01 L449.0,68.99 L450.0,68.97 L451.0,68.95 L452.0,68.93 L453.0,68.91 L454.0,68.89 L455.0,68.87 L456.0,68.85 L457.0,68.83 L458.0,68.81 L459.0,68.78 L460.0,68.76" stroke="#e9741f"/>
<path d="M78.0,246.60 L79.0,246.59 L80.0,246.59 L81.0,246.58 L82.0,246.57 L83.0,246.56 L84.0,246.55 L85.0,246.54 L86.0,246.53 L87.0,246.52 L88.0,246.51 L89.0,246.50 L90.0,246.49 L91.0,246.47 L92.0,246.46 L93.0,246.44 L94.0,246.43 L95.0,246.41 L96.0,246.39 L97.0,246.38 L98.0,246.36 L99.0,246.34 L100.0,246.32 L101.0,246.29 L102.0,246.27 L103.0,246.24 L104.0,246.22 L105.0,246.19 L106.0,246.16 L107.0,246.13 L108.0,246.10 L109.0,246.07 L110.0,246.03 L111.0,246.00 L112.0,245.96 L113.0,245.92 L114.0,245.88 L115.0,245.84 L116.0,245.79 L117.0,245.74 L118.0,245.69 L119.0,245.64 L120.0,245.59 L121.0,245.53 L122.0,245.47 L123.0,245.41 L124.0,245.34 L125.0,245.28 L126.0,245.20 L127.0,245.13 L128.0,245.05 L129.0,244.97 L130.0,244.88 L131.0,244.79 L132.0,244.70 L133.0,244.60 L134.0,244.50 L135.0,244.40 L136.0,244.28 L137.0,244.17 L138.0,244.05 L139.0,243.92 L140.0,243.79 L141.0,243.65 L142.0,243.50 L143.0,243.35 L144.0,243.20 L145.0,243.03 L146.0,242.86 L147.0,242.68 L148.0,242.49 L149.0,242.30 L150.0,242.09 L151.0,241.88 L152.0,241.66 L153.0,241.43 L154.0,241.18 L155.0,240.93 L156.0,240.67 L157.0,240.39 L158.0,240.11 L159.0,239.81 L160.0,239.50 L161.0,239.18 L162.0,238.84 L163.0,238.49 L164.0,238.12 L165.0,237.74 L166.0,237.34 L167.0,236.93 L168.0,236.50 L169.0,236.06 L170.0,235.59 L171.0,235.11 L172.0,234.61 L173.0,234.09 L174.0,233.54 L175.0,232.98 L176.0,232.40 L177.0,231.79 L178.0,231.16 L179.0,230.51 L180.0,229.83 L181.0,229.13 L182.0,228.41 L183.0,227.66 L184.0,226.88 L185.0,226.07 L186.0,225.24 L187.0,224.38 L188.0,223.49 L189.0,222.58 L190.0,221.63 L191.0,220.65 L192.0,219.65 L193.0,218.61 L194.0,217.54 L195.0,216.44 L196.0,215.32 L197.0,214.15 L198.0,212.96 L199.0,211.74 L200.0,210.49 L201.0,209.20 L202.0,207.88 L203.0,206.54 L204.0,205.16 L205.0,203.75 L206.0,202.32 L207.0,200.85 L208.0,199.36 L209.0,197.84 L210.0,196.29 L211.0,194.72 L212.0,193.12 L213.0,191.50 L214.0,189.86 L215.0,188.20 L216.0,186.52 L217.0,184.81 L218.0,183.10 L219.0,181.36 L220.0,179.62 L221.0,177.86 L222.0,176.09 L223.0,174.31 L224.0,172.52 L225.0,170.73 L226.0,168.93 L227.0,167.13 L228.0,165.34 L229.0,163.54 L230.0,161.74 L231.0,159.95 L232.0,158.17 L233.0,156.39 L234.0,154.62 L235.0,152.86 L236.0,151.12 L237.0,149.39 L238.0,147.67 L239.0,145.97 L240.0,144.28 L241.0,142.62 L242.0,140.97 L243.0,139.34 L244.0,137.74 L245.0,136.15 L246.0,134.59 L247.0,133.05 L248.0,131.53 L249.0,130.04 L250.0,128.57 L251.0,127.12 L252.0,125.70 L253.0,124.31 L254.0,122.94 L255.0,121.59 L256.0,120.27 L257.0,118.98 L258.0,117.70 L259.0,116.46 L260.0,115.23 L261.0,114.04 L262.0,112.86 L263.0,111.71 L264.0,110.58 L265.0,109.48 L266.0,108.39 L267.0,107.33 L268.0,106.29 L269.0,105.27 L270.0,104.28 L271.0,103.30 L272.0,102.34 L273.0,101.40 L274.0,100.48 L275.0,99.58 L276.0,98.69 L277.0,97.83 L278.0,96.98 L279.0,96.14 L280.0,95.33 L281.0,94.52 L282.0,93.74 L283.0,92.97 L284.0,92.21 L285.0,91.47 L286.0,90.74 L287.0,90.02 L288.0,89.32 L289.0,88.63 L290.0,87.95 L291.0,87.29 L292.0,86.63 L293.0,85.99 L294.0,85.36 L295.0,84.74 L296.0,84.13 L297.0,83.53 L298.0,82.95 L299.0,82.37 L300.0,81.80 L301.0,81.24 L302.0,80.70 L303.0,80.16 L304.0,79.63 L305.0,79.11 L306.0,78.60 L307.0,78.10 L308.0,77.61 L309.0,77.13 L310.0,76.65 L311.0,76.19 L312.0,75.73 L313.0,75.28 L314.0,74.84 L315.0,74.41 L316.0,73.98 L317.0,73.57 L318.0,73.16 L319.0,72.76 L320.0,72.36 L321.0,71.98 L322.0,71.60 L323.0,71.23 L324.0,70.87 L325.0,70.51 L326.0,70.16 L327.0,69.82 L328.0,69.49 L329.0,69.16 L330.0,68.84 L331.0,68.52 L332.0,68.22 L333.0,67.92 L334.0,67.62 L335.0,67.33 L336.0,67.05 L337.0,66.78 L338.0,66.51 L339.0,66.25 L340.0,65.99 L341.0,65.74 L342.0,65.49 L343.0,65.26 L344.0,65.02 L345.0,64.79 L346.0,64.57 L347.0,64.36 L348.0,64.14 L349.0,63.94 L350.0,63.74 L351.0,63.54 L352.0,63.35 L353.0,63.16 L354.0,62.98 L355.0,62.80 L356.0,62.63 L357.0,62.46 L358.0,62.30 L359.0,62.14 L360.0,61.98 L361.0,61.83 L362.0,61.68 L363.0,61.54 L364.0,61.40 L365.0,61.26 L366.0,61.13 L367.0,61.00 L368.0,60.88 L369.0,60.75 L370.0,60.64 L371.0,60.52 L372.0,60.41 L373.0,60.30 L374.0,60.19 L375.0,60.09 L376.0,59.99 L377.0,59.89 L378.0,59.80 L379.0,59.71 L380.0,59.62 L381.0,59.53 L382.0,59.45 L383.0,59.37 L384.0,59.29 L385.0,59.21 L386.0,59.14 L387.0,59.06 L388.0,58.99 L389.0,58.92 L390.0,58.86 L391.0,58.79 L392.0,58.73 L393.0,58.67 L394.0,58.61 L395.0,58.56 L396.0,58.50 L397.0,58.45 L398.0,58.39 L399.0,58.34 L400.0,58.30 L401.0,58.25 L402.0,58.20 L403.0,58.16 L404.0,58.11 L405.0,58.07 L406.0,58.03 L407.0,57.99 L408.0,57.95 L409.0,57.92 L410.0,57.88 L411.0,57.85 L412.0,57.81 L413.0,57.78 L414.0,57.75 L415.0,57.72 L416.0,57.69 L417.0,57.66 L418.0,57.64 L419.0,57.61 L420.0,57.58 L421.0,57.56 L422.0,57.53 L423.0,57.51 L424.0,57.49 L425.0,57.47 L426.0,57.45 L427.0,57.43 L428.0,57.41 L429.0,57.39 L430.0,57.37 L431.0,57.35 L432.0,57.33 L433.0,57.32 L434.0,57.30 L435.0,57.29 L436.0,57.27 L437.0,57.26 L438.0,57.24 L439.0,57.23 L440.0,57.22 L441.0,57.21 L442.0,57.20 L443.0,57.18 L444.0,57.17 L445.0,57.16 L446.0,57.15 L447.0,57.14 L448.0,57.13 L449.0,57.13 L450.0,57.12 L451.0,57.11 L452.0,57.10 L453.0,57.09 L454.0,57.09 L455.0,57.08 L456.0,57.07 L457.0,57.07 L458.0,57.06 L459.0,57.06 L460.0,57.05" stroke="#e9741f"/>
<path d="M78.0,246.80 L79.0,246.80 L80.0,246.80 L81.0,246.80 L82.0,246.80 L83.0,246.80 L84.0,246.80 L85.0,246.80 L86.0,246.80 L87.0,246.80 L88.0,246.80 L89.0,246.80 L90.0,246.80 L91.0,246.80 L92.0,246.80 L93.0,246.80 L94.0,246.80 L95.0,246.80 L96.0,246.77 L97.0,246.73 L98.0,246.69 L99.0,246.64 L100.0,246.60 L101.0,246.55 L102.0,246.49 L103.0,246.44 L104.0,246.38 L105.0,246.31 L106.0,246.25 L107.0,246.17 L108.0,246.10 L109.0,246.01 L110.0,245.93 L111.0,245.83 L112.0,245.74 L113.0,245.63 L114.0,245.52 L115.0,245.40 L116.0,245.28 L117.0,245.15 L118.0,245.01 L119.0,244.86 L120.0,244.70 L121.0,244.54 L122.0,244.37 L123.0,244.18 L124.0,243.99 L125.0,243.78 L126.0,243.56 L127.0,243.34 L128.0,243.09 L129.0,242.84 L130.0,242.57 L131.0,242.29 L132.0,242.00 L133.0,241.69 L134.0,241.37 L135.0,241.03 L136.0,240.67 L137.0,240.30 L138.0,239.91 L139.0,239.50 L140.0,239.07 L141.0,238.63 L142.0,238.16 L143.0,237.68 L144.0,237.17 L145.0,236.65 L146.0,236.10 L147.0,235.54 L148.0,234.95 L149.0,234.33 L150.0,233.70 L151.0,233.04 L152.0,232.36 L153.0,231.66 L154.0,230.94 L155.0,230.19 L156.0,229.41 L157.0,228.62 L158.0,227.79 L159.0,226.95 L160.0,226.08 L161.0,225.19 L162.0,224.27 L163.0,223.33 L164.0,222.37 L165.0,221.38 L166.0,220.37 L167.0,219.34 L168.0,218.29 L169.0,217.22 L170.0,216.12 L171.0,215.00 L172.0,213.87 L173.0,212.71 L174.0,211.54 L175.0,210.34 L176.0,209.13 L177.0,207.90 L178.0,206.66 L179.0,205.40 L180.0,204.13 L181.0,202.84 L182.0,201.54 L183.0,200.22 L184.0,198.90 L185.0,197.57 L186.0,196.22 L187.0,194.87 L188.0,193.51 L189.0,192.14 L190.0,190.77 L191.0,189.40 L192.0,188.01 L193.0,186.63 L194.0,185.25 L195.0,183.86 L196.0,182.47 L197.0,181.09 L198.0,179.70 L199.0,178.32 L200.0,176.94 L201.0,175.57 L202.0,174.20 L203.0,172.83 L204.0,171.47 L205.0,170.12 L206.0,168.78 L207.0,167.45 L208.0,166.12 L209.0,164.81 L210.0,163.50 L211.0,162.21 L212.0,160.93 L213.0,159.66 L214.0,158.40 L215.0,157.15 L216.0,155.92 L217.0,154.71 L218.0,153.50 L219.0,152.31 L220.0,151.14 L221.0,149.98 L222.0,148.84 L223.0,147.71 L224.0,146.60 L225.0,145.51 L226.0,144.43 L227.0,143.37 L228.0,142.32 L229.0,141.29 L230.0,140.28 L231.0,139.28 L232.0,138.31 L233.0,137.34 L234.0,136.40 L235.0,135.47 L236.0,134.56 L237.0,133.67 L238.0,132.79 L239.0,131.93 L240.0,131.08 L241.0,130.26 L242.0,129.45 L243.0,128.65 L244.0,127.87 L245.0,127.11 L246.0,126.36 L247.0,125.63 L248.0,124.91 L249.0,124.21 L250.0,123.53 L251.0,122.86 L252.0,122.20 L253.0,121.56 L254.0,120.93 L255.0,120.32 L256.0,119.72 L257.0,119.14 L258.0,118.56 L259.0,118.01 L260.0,117.46 L261.0,116.93 L262.0,116.41 L263.0,115.90 L264.0,115.40 L265.0,114.92 L266.0,114.45 L267.0,113.99 L268.0,113.54 L269.0,113.10 L270.0,112.67 L271.0,112.25 L272.0,111.85 L273.0,111.45 L274.0,111.06 L275.0,110.68 L276.0,110.32 L277.0,109.96 L278.0,109.61 L279.0,109.27 L280.0,108.94 L281.0,108.61 L282.0,108.30 L283.0,107.99 L284.0,107.69 L285.0,107.40 L286.0,107.11 L287.0,106.83 L288.0,106.56 L289.0,106.30 L290.0,106.04 L291.0,105.79 L292.0,105.55 L293.0,105.31 L294.0,105.08 L295.0,104.86 L296.0,104.64 L297.0,104.42 L298.0,104.21 L299.0,104.01 L300.0,103.81 L301.0,103.62 L302.0,103.43 L303.0,103.25 L304.0,103.07 L305.0,102.90 L306.0,102.73 L307.0,102.56 L308.0,102.40 L309.0,102.24 L310.0,102.09 L311.0,101.94 L312.0,101.80 L313.0,101.66 L314.0,101.52 L315.0,101.38 L316.0,101.25 L317.0,101.13 L318.0,101.00 L319.0,100.88 L320.0,100.76 L321.0,100.65 L322.0,100.54 L323.0,100.43 L324.0,100.32 L325.0,100.22 L326.0,100.12 L327.0,100.02 L328.0,99.92 L329.0,99.83 L330.0,99.74 L331.0,99.65 L332.0,99.56 L333.0,99.48 L334.0,99.39 L335.0,99.31 L336.0,99.24 L337.0,99.16 L338.0,99.08 L339.0,99.01 L340.0,98.94 L341.0,98.87 L342.0,98.81 L343.0,98.74 L344.0,98.68 L345.0,98.61 L346.0,98.55 L347.0,98.49 L348.0,98.44 L349.0,98.38 L350.0,98.33 L351.0,98.27 L352.0,98.22 L353.0,98.17 L354.0,98.12 L355.0,98.07 L356.0,98.03 L357.0,97.98 L358.0,97.94 L359.0,97.89 L360.0,97.85 L361.0,97.81 L362.0,97.77 L363.0,97.73 L364.0,97.70 L365.0,97.66 L366.0,97.62 L367.0,97.59 L368.0,97.56 L369.0,97.52 L370.0,97.49 L371.0,97.46 L372.0,97.43 L373.0,97.40 L374.0,97.37 L375.0,97.35 L376.0,97.32 L377.0,97.30 L378.0,97.27 L379.0,97.25 L380.0,97.22 L381.0,97.20 L382.0,97.18 L383.0,97.16 L384.0,97.14 L385.0,97.12 L386.0,97.10 L387.0,97.08 L388.0,97.07 L389.0,97.05 L390.0,97.04 L391.0,97.02 L392.0,97.01 L393.0,96.99 L394.0,96.98 L395.0,96.97 L396.0,96.96 L397.0,96.95 L398.0,96.94 L399.0,96.93 L400.0,96.92 L401.0,96.91 L402.0,96.90 L403.0,96.90 L404.0,96.89 L405.0,96.88 L406.0,96.88 L407.0,96.87 L408.0,96.87 L409.0,96.87 L410.0,96.87 L411.0,96.86 L412.0,96.86 L413.0,96.86 L414.0,96.86 L415.0,96.86 L416.0,96.86 L417.0,96.87 L418.0,96.87 L419.0,96.87 L420.0,96.88 L421.0,96.88 L422.0,96.89 L423.0,96.89 L424.0,96.90 L425.0,96.90 L426.0,96.91 L427.0,96.92 L428.0,96.93 L429.0,96.94 L430.0,96.95 L431.0,96.96 L432.0,96.97 L433.0,96.98 L434.0,96.99 L435.0,97.01 L436.0,97.02 L437.0,97.04 L438.0,97.05 L439.0,97.07 L440.0,97.08 L441.0,97.10 L442.0,97.12 L443.0,97.14 L444.0,97.16 L445.0,97.18 L446.0,97.20 L447.0,97.22 L448.0,97.24 L449.0,97.26 L450.0,97.29 L451.0,97.31 L452.0,97.33 L453.0,97.36 L454.0,97.38 L455.0,97.41 L456.0,97.44 L457.0,97.47 L458.0,97.49 L459.0,97.52 L460.0,97.55" stroke="#a8122c"/>
<path d="M78.0,246.80 L79.0,246.80 L80.0,246.80 L81.0,246.80 L82.0,246.80 L83.0,246.80 L84.0,246.80 L85.0,246.80 L86.0,246.80 L87.0,246.80 L88.0,246.80 L89.0,246.80 L90.0,246.80 L91.0,246.80 L92.0,246.80 L93.0,246.77 L94.0,246.73 L95.0,246.69 L96.0,246.65 L97.0,246.61 L98.0,246.57 L99.0,246.52 L100.0,246.46 L101.0,246.41 L102.0,246.35 L103.0,246.29 L104.0,246.22 L105.0,246.15 L106.0,246.07 L107.0,245.99 L108.0,245.90 L109.0,245.81 L110.0,245.71 L111.0,245.60 L112.0,245.49 L113.0,245.37 L114.0,245.24 L115.0,245.11 L116.0,244.96 L117.0,244.81 L118.0,244.65 L119.0,244.48 L120.0,244.30 L121.0,244.11 L122.0,243.90 L123.0,243.69 L124.0,243.46 L125.0,243.22 L126.0,242.97 L127.0,242.70 L128.0,242.42 L129.0,242.12 L130.0,241.81 L131.0,241.48 L132.0,241.14 L133.0,240.78 L134.0,240.40 L135.0,240.00 L136.0,239.59 L137.0,239.16 L138.0,238.70 L139.0,238.23 L140.0,237.73 L141.0,237.22 L142.0,236.68 L143.0,236.12 L144.0,235.54 L145.0,234.94 L146.0,234.32 L147.0,233.67 L148.0,233.00 L149.0,232.30 L150.0,231.58 L151.0,230.84 L152.0,230.07 L153.0,229.28 L154.0,228.47 L155.0,227.63 L156.0,226.76 L157.0,225.87 L158.0,224.96 L159.0,224.02 L160.0,223.06 L161.0,222.07 L162.0,221.06 L163.0,220.03 L164.0,218.97 L165.0,217.89 L166.0,216.78 L167.0,215.66 L168.0,214.51 L169.0,213.34 L170.0,212.15 L171.0,210.94 L172.0,209.70 L173.0,208.45 L174.0,207.18 L175.0,205.89 L176.0,204.59 L177.0,203.26 L178.0,201.92 L179.0,200.57 L180.0,199.20 L181.0,197.81 L182.0,196.42 L183.0,195.01 L184.0,193.59 L185.0,192.16 L186.0,190.72 L187.0,189.27 L188.0,187.81 L189.0,186.35 L190.0,184.88 L191.0,183.40 L192.0,181.92 L193.0,180.44 L194.0,178.95 L195.0,177.46 L196.0,175.97 L197.0,174.48 L198.0,172.99 L199.0,171.50 L200.0,170.02 L201.0,168.53 L202.0,167.05 L203.0,165.58 L204.0,164.11 L205.0,162.65 L206.0,161.19 L207.0,159.74 L208.0,158.30 L209.0,156.86 L210.0,155.44 L211.0,154.02 L212.0,152.62 L213.0,151.23 L214.0,149.85 L215.0,148.48 L216.0,147.12 L217.0,145.78 L218.0,144.45 L219.0,143.14 L220.0,141.83 L221.0,140.55 L222.0,139.28 L223.0,138.02 L224.0,136.78 L225.0,135.56 L226.0,134.35 L227.0,133.16 L228.0,131.99 L229.0,130.83 L230.0,129.69 L231.0,128.57 L232.0,127.46 L233.0,126.38 L234.0,125.31 L235.0,124.25 L236.0,123.22 L237.0,122.20 L238.0,121.20 L239.0,120.22 L240.0,119.25 L241.0,118.30 L242.0,117.37 L243.0,116.45 L244.0,115.55 L245.0,114.67 L246.0,113.80 L247.0,112.95 L248.0,112.12 L249.0,111.30 L250.0,110.50 L251.0,109.72 L252.0,108.95 L253.0,108.19 L254.0,107.45 L255.0,106.73 L256.0,106.02 L257.0,105.32 L258.0,104.64 L259.0,103.97 L260.0,103.32 L261.0,102.68 L262.0,102.06 L263.0,101.44 L264.0,100.85 L265.0,100.26 L266.0,99.69 L267.0,99.12 L268.0,98.57 L269.0,98.04 L270.0,97.51 L271.0,97.00 L272.0,96.50 L273.0,96.00 L274.0,95.52 L275.0,95.05 L276.0,94.59 L277.0,94.14 L278.0,93.71 L279.0,93.28 L280.0,92.85 L281.0,92.44 L282.0,92.04 L283.0,91.65 L284.0,91.26 L285.0,90.89 L286.0,90.52 L287.0,90.16 L288.0,89.81 L289.0,89.46 L290.0,89.12 L291.0,88.79 L292.0,88.47 L293.0,88.15 L294.0,87.84 L295.0,87.54 L296.0,87.24 L297.0,86.95 L298.0,86.66 L299.0,86.38 L300.0,86.11 L301.0,85.84 L302.0,85.58 L303.0,85.32 L304.0,85.06 L305.0,84.82 L306.0,84.57 L307.0,84.33 L308.0,84.10 L309.0,83.87 L310.0,83.64 L311.0,83.42 L312.0,83.21 L313.0,83.00 L314.0,82.79 L315.0,82.58 L316.0,82.38 L317.0,82.19 L318.0,81.99 L319.0,81.80 L320.0,81.62 L321.0,81.44 L322.0,81.26 L323.0,81.08 L324.0,80.91 L325.0,80.74 L326.0,80.58 L327.0,80.41 L328.0,80.25 L329.0,80.09 L330.0,79.94 L331.0,79.79 L332.0,79.64 L333.0,79.49 L334.0,79.35 L335.0,79.21 L336.0,79.07 L337.0,78.93 L338.0,78.80 L339.0,78.67 L340.0,78.54 L341.0,78.41 L342.0,78.29 L343.0,78.16 L344.0,78.04 L345.0,77.92 L346.0,77.81 L347.0,77.69 L348.0,77.58 L349.0,77.47 L350.0,77.36 L351.0,77.25 L352.0,77.14 L353.0,77.04 L354.0,76.94 L355.0,76.84 L356.0,76.74 L357.0,76.64 L358.0,76.54 L359.0,76.45 L360.0,76.36 L361.0,76.27 L362.0,76.18 L363.0,76.09 L364.0,76.00 L365.0,75.91 L366.0,75.83 L367.0,75.75 L368.0,75.67 L369.0,75.59 L370.0,75.51 L371.0,75.43 L372.0,75.35 L373.0,75.28 L374.0,75.21 L375.0,75.13 L376.0,75.06 L377.0,74.99 L378.0,74.92 L379.0,74.86 L380.0,74.79 L381.0,74.73 L382.0,74.66 L383.0,74.60 L384.0,74.54 L385.0,74.48 L386.0,74.42 L387.0,74.36 L388.0,74.30 L389.0,74.25 L390.0,74.20 L391.0,74.14 L392.0,74.09 L393.0,74.04 L394.0,73.99 L395.0,73.94 L396.0,73.89 L397.0,73.85 L398.0,73.80 L399.0,73.76 L400.0,73.71 L401.0,73.67 L402.0,73.63 L403.0,73.59 L404.0,73.55 L405.0,73.52 L406.0,73.48 L407.0,73.44 L408.0,73.41 L409.0,73.38 L410.0,73.35 L411.0,73.32 L412.0,73.29 L413.0,73.26 L414.0,73.23 L415.0,73.21 L416.0,73.18 L417.0,73.16 L418.0,73.14 L419.0,73.11 L420.0,73.10 L421.0,73.08 L422.0,73.06 L423.0,73.04 L424.0,73.03 L425.0,73.02 L426.0,73.00 L427.0,72.99 L428.0,72.98 L429.0,72.97 L430.0,72.97 L431.0,72.96 L432.0,72.96 L433.0,72.95 L434.0,72.95 L435.0,72.95 L436.0,72.95 L437.0,72.95 L438.0,72.96 L439.0,72.96 L440.0,72.97 L441.0,72.98 L442.0,72.99 L443.0,73.00 L444.0,73.01 L445.0,73.02 L446.0,73.04 L447.0,73.05 L448.0,73.07 L449.0,73.09 L450.0,73.11 L451.0,73.13 L452.0,73.16 L453.0,73.18 L454.0,73.21 L455.0,73.24 L456.0,73.27 L457.0,73.30 L458.0,73.34 L459.0,73.37 L460.0,73.41" stroke="#a8122c"/>
</g>
<line x1="126" y1="246.9" x2="246" y2="246.9" stroke="#1d2a52" stroke-width="1.4"/>
<line x1="246" y1="246.8" x2="460.6" y2="246.8" stroke="#333" stroke-width="1.5"/>
<rect x="88.6" y="19.3" width="173.8" height="76.2" fill="#fff" stroke="#333" stroke-width="1.5"/>
<line x1="99.7" y1="30.0" x2="117.4" y2="30.0" stroke="#74c2e2" stroke-width="2.3"/>
<line x1="99.7" y1="46.5" x2="117.4" y2="46.5" stroke="#284a8a" stroke-width="2.3"/>
<line x1="99.7" y1="63.0" x2="117.4" y2="63.0" stroke="#e87628" stroke-width="2.3"/>
<line x1="99.7" y1="79.7" x2="117.4" y2="79.7" stroke="#a40e2a" stroke-width="2.3"/>
<text x="128.9" y="36.9" font-size="10.7">Immature DCs (iDCs)</text>
<text x="128.9" y="52.9" font-size="10.7">iDCs + TNF&#945;</text>
<text x="128.9" y="70.0" font-size="10.7">iDCs + PGE<tspan font-size="8.6" dy="3.1">2</tspan></text>
<text x="128.9" y="86.1" font-size="10.7">iDCs + TNF&#945; / PGE<tspan font-size="8.6" dy="3.1">2</tspan></text>
<text x="1.2" y="324.6" class="b" font-size="25" style="fill:#000">B</text>
<g stroke="#000" stroke-width="2" fill="none">
<line x1="67.1" y1="336.2" x2="67.1" y2="561.6"/>
<line x1="66.1" y1="560.7" x2="256" y2="560.7"/>
<line x1="62.4" y1="560.30" x2="67.1" y2="560.30"/>
<line x1="62.4" y1="526.41" x2="67.1" y2="526.41"/>
<line x1="62.4" y1="492.53" x2="67.1" y2="492.53"/>
<line x1="62.4" y1="458.64" x2="67.1" y2="458.64"/>
<line x1="62.4" y1="424.76" x2="67.1" y2="424.76"/>
<line x1="62.4" y1="390.88" x2="67.1" y2="390.88"/>
<line x1="62.4" y1="356.99" x2="67.1" y2="356.99"/>
<line x1="67.9" y1="560.7" x2="67.9" y2="565.7"/>
<line x1="115.2" y1="560.7" x2="115.2" y2="565.7"/>
<line x1="161.9" y1="560.7" x2="161.9" y2="565.7"/>
<line x1="209.5" y1="560.7" x2="209.5" y2="565.7"/>
<line x1="255.0" y1="560.7" x2="255.0" y2="565.7"/>
</g>
<g font-size="11" text-anchor="end" style="fill:#222">
<text x="59.2" y="565.15">0</text>
<text x="59.9" y="531.26">50</text>
<text x="59.9" y="497.38">100</text>
<text x="59.9" y="463.50">150</text>
<text x="59.9" y="429.61">200</text>
<text x="59.9" y="395.73">250</text>
<text x="59.9" y="361.84">300</text>
</g>
<rect x="84.8" y="557.1" width="15.40" height="3.20" fill="#000"/><line x1="92.50" y1="557.1" x2="92.50" y2="553.8" stroke="#000" stroke-width="1.3"/><line x1="89.2" y1="553.8" x2="95.8" y2="553.8" stroke="#000" stroke-width="1.5"/>
<rect x="131.0" y="557.9" width="15.60" height="2.40" fill="#000"/>
<rect x="177.2" y="516.5" width="16.10" height="43.80" fill="#000"/><line x1="185.25" y1="516.5" x2="185.25" y2="501.3" stroke="#000" stroke-width="1.3"/><line x1="182.5" y1="501.3" x2="188.9" y2="501.3" stroke="#000" stroke-width="1.5"/>
<rect x="223.7" y="438.8" width="16.10" height="121.50" fill="#000"/><line x1="231.75" y1="438.8" x2="231.75" y2="396.0" stroke="#000" stroke-width="1.3"/><line x1="228.6" y1="396.0" x2="234.8" y2="396.0" stroke="#000" stroke-width="1.5"/>
<g font-size="10.8" text-anchor="middle"><text x="92.6" y="576.6">iDC</text><text x="138.8" y="576.6">TNF&#945;</text><text x="186.5" y="576.6">PGE<tspan font-size="7.7" dy="3.3">2</tspan></text><text x="231.2" y="574.7">TNF&#945;+</text><text x="233.0" y="589.0">PGE<tspan font-size="7.7" dy="3.3">2</tspan></text></g>
<line x1="122.5" y1="594.7" x2="245.6" y2="594.7" stroke="#000" stroke-width="1.3"/>
<text x="122.4" y="608.4" font-size="14.1">maturation stimulus</text>
<text transform="translate(11.6,450.2) rotate(-90)" font-size="13.85" text-anchor="middle">Relative change in RNA expression</text>
<text transform="translate(27.8,446.3) rotate(-90)" font-size="14.1" text-anchor="middle">(IDO / GAPDH)</text>
<g stroke="#8c8c8c" stroke-width="1.4" fill="none">
<line x1="95.7" y1="348.9" x2="95.7" y2="420"/>
</g>
<g stroke="#333" stroke-width="1" fill="none">
<line x1="95.2" y1="419.5" x2="209.5" y2="419.5"/>
<line x1="94.3" y1="349.5" x2="95.7" y2="349.5" stroke="#777"/>
<line x1="94.3" y1="367.0" x2="95.7" y2="367.0" stroke="#777"/>
<line x1="94.3" y1="384.5" x2="95.7" y2="384.5" stroke="#777"/>
<line x1="94.3" y1="402.0" x2="95.7" y2="402.0" stroke="#777"/>
<line x1="94.3" y1="419.5" x2="95.7" y2="419.5" stroke="#777"/>
<line x1="112.7" y1="419.5" x2="112.7" y2="421.3"/>
<line x1="139.8" y1="419.5" x2="139.8" y2="421.3"/>
<line x1="166.2" y1="419.5" x2="166.2" y2="421.3"/>
<line x1="193.6" y1="419.5" x2="193.6" y2="421.3"/>
</g>
<g class="b" style="fill:#000" stroke="#000" stroke-width="0.22">
<text transform="translate(93.0,352.0) scale(1.27,1)" font-size="7" text-anchor="end">1000</text>
<text transform="translate(93.0,369.5) scale(1.27,1)" font-size="7" text-anchor="end">100</text>
<text transform="translate(93.0,387.0) scale(1.27,1)" font-size="7" text-anchor="end">10</text>
<text transform="translate(93.0,404.5) scale(1.27,1)" font-size="7" text-anchor="end">1</text>
<text transform="translate(93.0,422.0) scale(1.27,1)" font-size="7" text-anchor="end">0</text>
<text transform="translate(112.9,431.4) scale(1.27,1)" font-size="6.8" text-anchor="middle">0.01</text>
<text transform="translate(140,431.4) scale(1.27,1)" font-size="6.8" text-anchor="middle">0.1</text>
<text transform="translate(166,431.4) scale(1.27,1)" font-size="6.8" text-anchor="middle">1</text>
<text transform="translate(191.8,431.4) scale(1.27,1)" font-size="6.8" text-anchor="middle">10</text>
<text transform="translate(102.3,445.5) scale(1.16,1)" font-size="10.8" stroke-width="0.3">Dose PGE2 (&#181;M)</text>
</g>
<line x1="108.6" y1="411.0" x2="202.3" y2="347.4" stroke="#2a2a2a" stroke-width="0.9" stroke-dasharray="2 0.7"/>
<rect x="110.5" y="405.7" width="4" height="4" fill="#000"/>
<rect x="138.0" y="387.2" width="4" height="4" fill="#000"/>
<rect x="163.9" y="371.1" width="4" height="4" fill="#000"/>
<rect x="191.7" y="354.6" width="4" height="4" fill="#000"/>
<text x="282.9" y="324.4" class="b" font-size="25.5" style="fill:#000">C</text>
<g stroke="#000" stroke-width="2" fill="none">
<line x1="330.3" y1="336.2" x2="330.3" y2="561.6"/>
<line x1="329.3" y1="560.7" x2="517.8" y2="560.7"/>
<line x1="325.3" y1="560.00" x2="330.3" y2="560.00"/>
<line x1="325.3" y1="526.00" x2="330.3" y2="526.00"/>
<line x1="325.3" y1="492.00" x2="330.3" y2="492.00"/>
<line x1="325.3" y1="458.00" x2="330.3" y2="458.00"/>
<line x1="325.3" y1="424.00" x2="330.3" y2="424.00"/>
<line x1="325.3" y1="390.00" x2="330.3" y2="390.00"/>
<line x1="325.3" y1="356.00" x2="330.3" y2="356.00"/>
<line x1="331.6" y1="560.7" x2="331.6" y2="565.6"/>
<line x1="378.9" y1="560.7" x2="378.9" y2="565.6"/>
<line x1="425.4" y1="560.7" x2="425.4" y2="565.6"/>
<line x1="473.4" y1="560.7" x2="473.4" y2="565.6"/>
<line x1="516.5" y1="560.7" x2="516.5" y2="565.6"/>
</g>
<g font-size="10.3" text-anchor="end" style="fill:#222">
<text x="322.5" y="564.20">0</text>
<text x="322.5" y="530.20">5</text>
<text x="323.2" y="496.20">10</text>
<text x="323.2" y="462.20">15</text>
<text x="323.2" y="428.20">20</text>
<text x="323.2" y="394.20">25</text>
<text x="323.2" y="360.20">30</text>
</g>
<rect x="347.3" y="548.8" width="15.00" height="11.20" fill="#000"/><line x1="354.80" y1="548.8" x2="354.80" y2="546.1" stroke="#000" stroke-width="1.3"/><line x1="352" y1="546.1" x2="357.7" y2="546.1" stroke="#000" stroke-width="1.5"/>
<rect x="393.5" y="555.8" width="15.00" height="4.20" fill="#000"/>
<rect x="440.4" y="553.5" width="16.10" height="6.50" fill="#000"/><line x1="448.45" y1="553.5" x2="448.45" y2="550.0" stroke="#000" stroke-width="1.3"/><line x1="445" y1="550.0" x2="450.8" y2="550.0" stroke="#000" stroke-width="1.5"/>
<rect x="487.1" y="381.9" width="15.90" height="178.10" fill="#000"/><line x1="495.05" y1="381.9" x2="495.05" y2="377.8" stroke="#000" stroke-width="1.3"/><line x1="491.9" y1="377.8" x2="497.9" y2="377.8" stroke="#000" stroke-width="1.5"/>
<g font-size="10.8" text-anchor="middle"><text x="354.9" y="576.3">iDC</text><text x="401.5" y="576.3">TNF&#945;</text><text x="448.8" y="576.3">PGE<tspan font-size="7.7" dy="3.3">2</tspan></text><text x="494.0" y="573.9">TNF&#945;+</text><text x="495.5" y="588.0">PGE<tspan font-size="7.7" dy="3.3">2</tspan></text></g>
<line x1="383.5" y1="595.1" x2="507.3" y2="595.1" stroke="#000" stroke-width="1.3"/>
<text x="383.5" y="608.9" font-size="14.1">maturation stimulus</text>
<text transform="translate(296.3,447.8) rotate(-90)" font-size="13.75" text-anchor="middle">IDO Activity ( &#181;M Kynurenine )</text>
</svg>
</body></html>
